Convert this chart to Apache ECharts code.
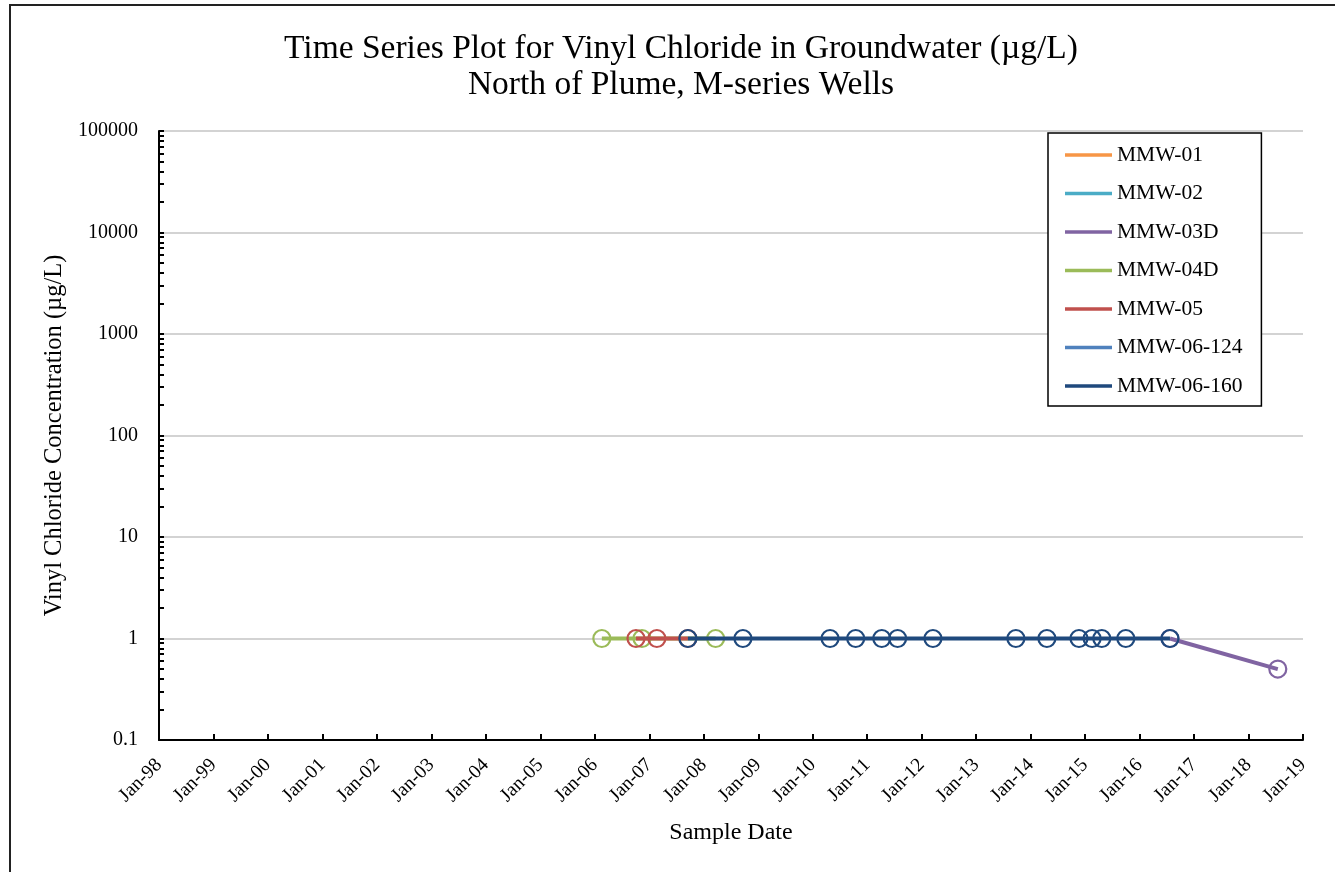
<!DOCTYPE html>
<html>
<head>
<meta charset="utf-8">
<script src="https://cdn.jsdelivr.net/npm/echarts@6/dist/echarts.min.js"></script>
<style>html,body{margin:0;padding:0;background:#fff}#c{width:1335px;height:872px}</style>
</head>
<body>
<div id="c"></div>
<script>
// ---- data ----
const seriesNames = ['MMW-01','MMW-02','MMW-03D','MMW-04D','MMW-05','MMW-06-124','MMW-06-160'];
const seriesColors = ['#F79646','#4BACC6','#8064A2','#9BBB59','#C0504D','#4F81BD','#1F497D'];

const mmw01Dates = [];
const mmw01Values = [];
const mmw02Dates = [];
const mmw02Values = [];
const mmw03dDates = ['2016-07-23','2018-07-16'];
const mmw03dValues = [1, 0.5];
const mmw04dDates = ['2006-02-17','2006-11-13','2008-03-21'];
const mmw04dValues = [1, 1, 1];
const mmw05Dates = ['2006-10-04','2007-02-21','2007-09-17'];
const mmw05Values = [1, 1, 1];
const mmw06124Dates = [];
const mmw06124Values = [];
const mmw06160Dates = ['2007-09-17','2008-09-20','2010-04-27','2010-10-16','2011-04-09','2011-07-24','2012-03-17',
  '2013-09-24','2014-04-20','2014-11-21','2015-02-17','2015-04-23','2015-10-01','2016-07-23'];
const mmw06160Values = [1,1,1,1,1,1,1,1,1,1,1,1,1,1];

const xTickDates = ['1998-01-01','1999-01-01','2000-01-01','2001-01-01','2002-01-01','2003-01-01','2004-01-01',
  '2005-01-01','2006-01-01','2007-01-01','2008-01-01','2009-01-01','2010-01-01','2011-01-01','2012-01-01',
  '2013-01-01','2014-01-01','2015-01-01','2016-01-01','2017-01-01','2018-01-01','2019-01-01'];
const xTickLabels = ['Jan-98','Jan-99','Jan-00','Jan-01','Jan-02','Jan-03','Jan-04','Jan-05','Jan-06','Jan-07',
  'Jan-08','Jan-09','Jan-10','Jan-11','Jan-12','Jan-13','Jan-14','Jan-15','Jan-16','Jan-17','Jan-18','Jan-19'];
const yTickValues = [0.1, 1, 10, 100, 1000, 10000, 100000];
const yTickLabels = ['0.1','1','10','100','1000','10000','100000'];
const yMinorTicks = [0.2,0.3,0.4,0.5,0.6,0.7,0.8,0.9,2,3,4,5,6,7,8,9,20,30,40,50,60,70,80,90,
  200,300,400,500,600,700,800,900,2000,3000,4000,5000,6000,7000,8000,9000,20000,30000,40000,50000,60000,70000,80000,90000];

const allDates = [mmw01Dates,mmw02Dates,mmw03dDates,mmw04dDates,mmw05Dates,mmw06124Dates,mmw06160Dates];
const allValues = [mmw01Values,mmw02Values,mmw03dValues,mmw04dValues,mmw05Values,mmw06124Values,mmw06160Values];

// ---- chart ----
const FONT = '"Liberation Serif","Times New Roman",serif';
const toTs = d => Date.UTC(+d.slice(0,4), +d.slice(5,7) - 1, +d.slice(8,10));
const xTs = xTickDates.map(toTs);
const labelMap = {};
xTs.forEach((t, i) => labelMap[t] = xTickLabels[i]);

const series = seriesNames.map((name, i) => ({
  name: name,
  type: 'line',
  xAxisIndex: 0, yAxisIndex: 0,
  data: allDates[i].map((d, j) => [toTs(d), allValues[i][j]]),
  symbol: 'circle',
  symbolSize: 17,
  showAllSymbol: true,
  lineStyle: { color: seriesColors[i], width: 4 },
  itemStyle: { color: 'rgba(255,255,255,0)', borderColor: seriesColors[i], borderWidth: 2.2 },
  emphasis: { disabled: true },
  z: 2 + i
}));

const logAxisBase = { type: 'log', logBase: 10, min: 0.1, max: 100000, position: 'left' };

const chart = echarts.init(document.getElementById('c'), null, { renderer: 'canvas' });
chart.setOption({
  animation: false,
  backgroundColor: '#fff',
  title: {
    text: 'Time Series Plot for Vinyl Chloride in Groundwater (µg/L)\nNorth of Plume, M-series Wells',
    left: 676, top: 26, textAlign: 'center',
    textStyle: { fontFamily: FONT, fontSize: 33.5, fontWeight: 'normal', color: '#000', lineHeight: 36 }
  },
  graphic: [{
    type: 'rect', shape: { x: 10, y: 5, width: 1345, height: 885 },
    style: { fill: 'none', stroke: '#222', lineWidth: 2 }, silent: true, z: 100
  }],
  legend: {
    orient: 'vertical', left: 1048, top: 133,
    padding: [11, 19, 9, 17],
    itemGap: 16.5,
    itemWidth: 47, itemHeight: 3.5,
    backgroundColor: '#fff', borderColor: '#000', borderWidth: 1.5,
    textStyle: { fontFamily: FONT, fontSize: 21.5, color: '#000' },
    z: 20,
    data: seriesNames.map((n, i) => ({ name: n, icon: 'rect', itemStyle: { color: seriesColors[i], borderWidth: 0 } }))
  },
  grid: { left: 159, right: 32, top: 131, bottom: 132 },
  xAxis: {
    type: 'value',
    min: xTs[0], max: xTs[xTs.length - 1],
    name: 'Sample Date', nameLocation: 'middle', nameGap: 81,
    nameTextStyle: { fontFamily: FONT, fontSize: 24, color: '#000' },
    axisLine: { show: true, onZero: false, lineStyle: { color: '#000', width: 2 } },
    axisTick: { show: true, inside: true, length: 6, lineStyle: { color: '#000', width: 2 }, customValues: xTs },
    axisLabel: {
      customValues: xTs, rotate: 45, margin: 22,
      fontFamily: FONT, fontSize: 19.5, color: '#000',
      formatter: v => labelMap[v] || ''
    },
    splitLine: { show: false }
  },
  yAxis: [Object.assign({}, logAxisBase, {
    name: 'Vinyl Chloride Concentration (µg/L)', nameLocation: 'middle', nameGap: 90,
    nameTextStyle: { fontFamily: FONT, fontSize: 24.5, color: '#000' },
    axisLine: { show: true, lineStyle: { color: '#000', width: 2 } },
    axisTick: { show: true, inside: true, length: 5, lineStyle: { color: '#000', width: 2 }, customValues: yTickValues },
    axisLabel: {
      customValues: yTickValues, margin: 21,
      fontFamily: FONT, fontSize: 20, color: '#000',
      formatter: v => { const i = yTickValues.findIndex(t => Math.abs(Math.log10(t) - Math.log10(v)) < 1e-6); return i >= 0 ? yTickLabels[i] : ''; }
    },
    splitLine: { show: true, lineStyle: { color: '#c4c4c4', width: 1.5 } }
  }), Object.assign({}, logAxisBase, {
    offset: 0,
    axisLine: { show: false },
    axisTick: { show: true, inside: true, length: 5, lineStyle: { color: '#000', width: 2 }, customValues: yMinorTicks },
    axisLabel: { show: false },
    splitLine: { show: false }
  })],
  series: series
});
</script>
</body>
</html>
